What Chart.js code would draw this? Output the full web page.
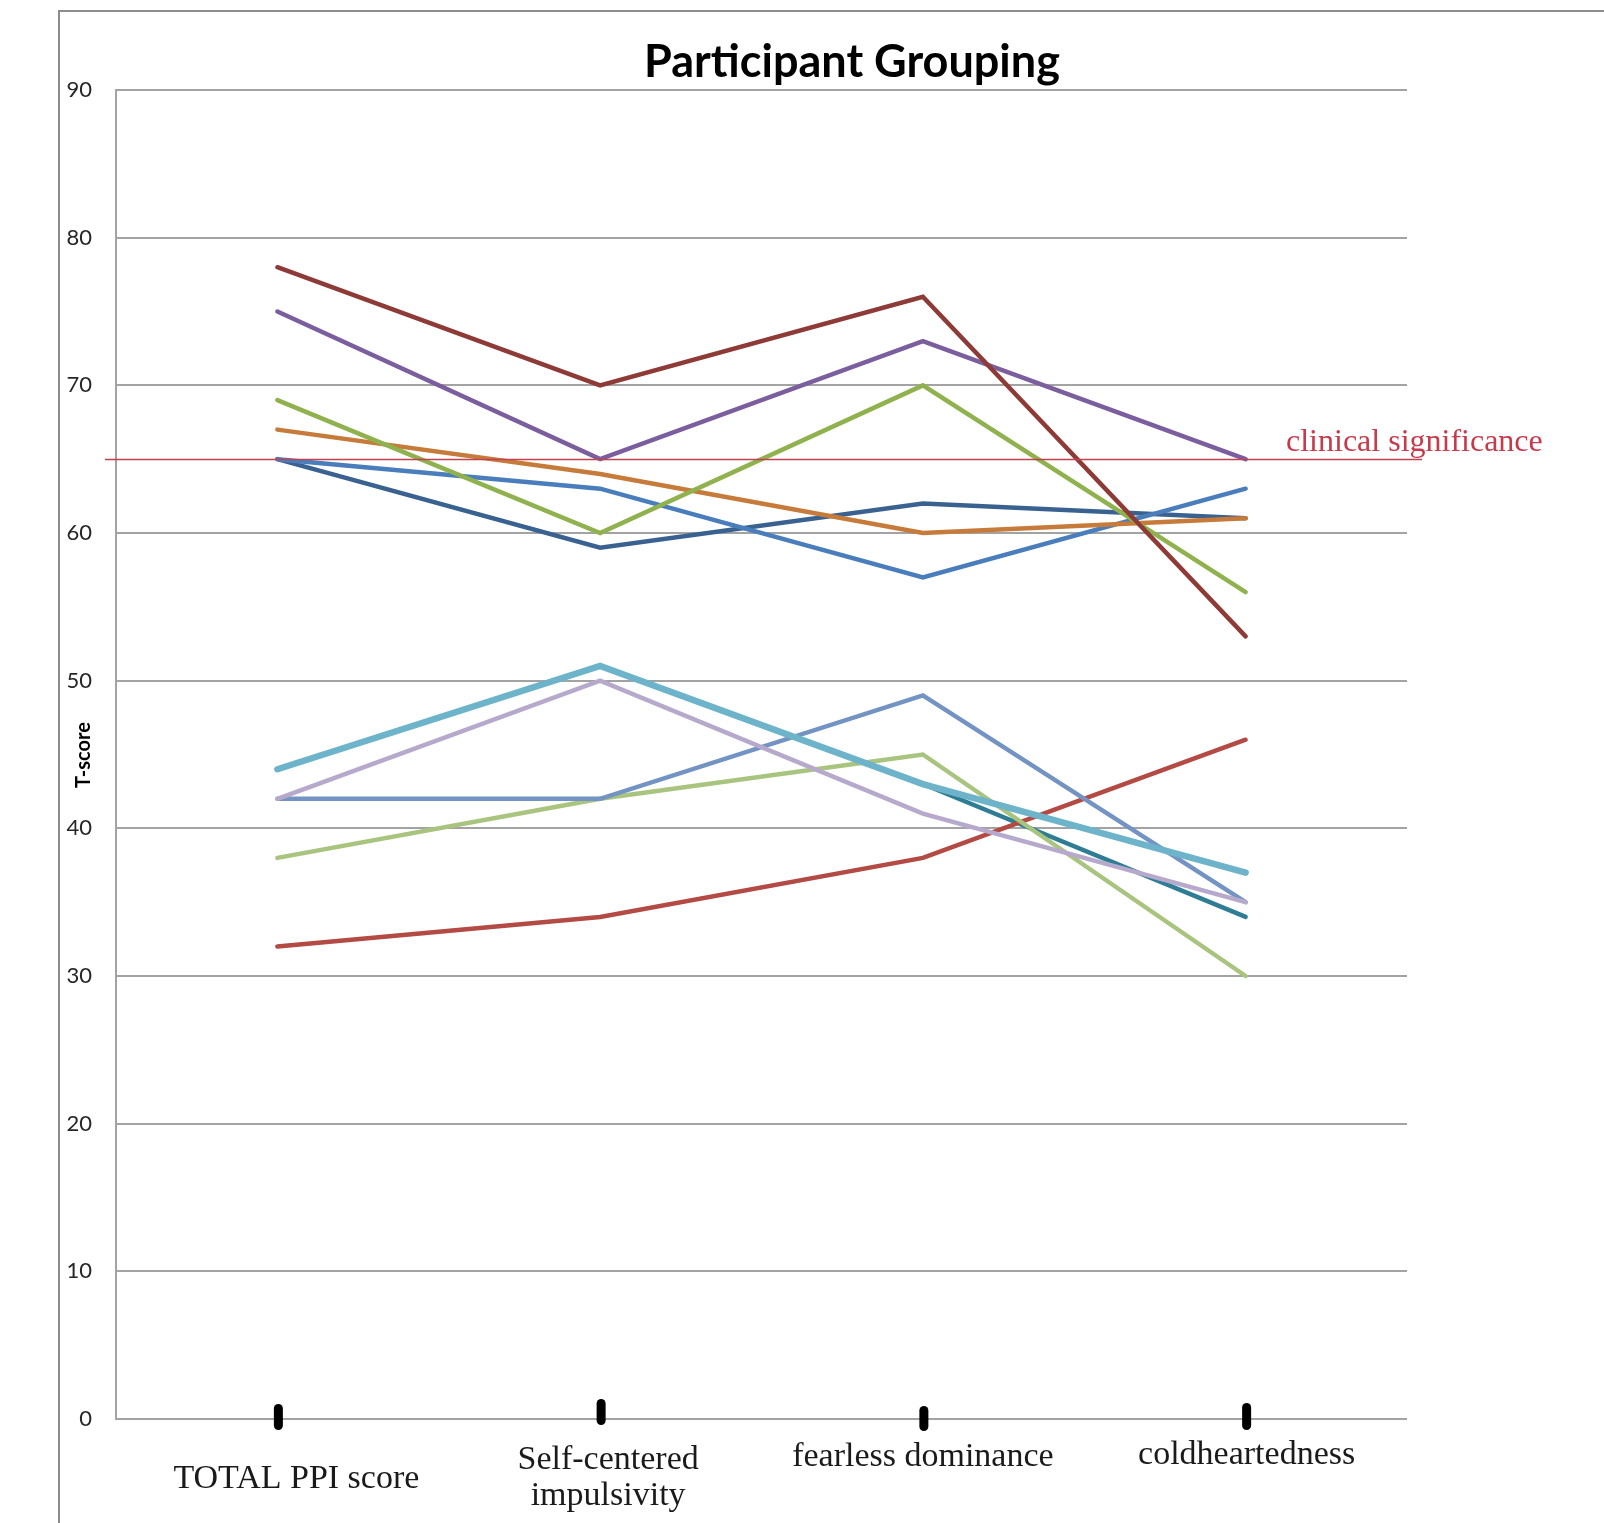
<!DOCTYPE html>
<html>
<head>
<meta charset="utf-8">
<title>Participant Grouping</title>
<script src="https://cdn.jsdelivr.net/npm/chart.js@4"></script>
<style>
  html, body { margin: 0; padding: 0; background: #fff; }
  #wrap { width: 1604px; height: 1523px; }
</style>
</head>
<body>
<div id="wrap"><canvas id="ppiChart" width="1604" height="1523"></canvas></div>
<script>
// categories on the x axis (second one wraps onto two lines)
const categories = ['TOTAL PPI score', 'Self-centered impulsivity', 'fearless dominance', 'coldheartedness'];
const categoryLines = [['TOTAL PPI score'], ['Self-centered', 'impulsivity'], ['fearless dominance'], ['coldheartedness']];

// y axis
const yMin = 0;
const yMax = 90;
const yStep = 10;
const clinicalThreshold = 65;
const clinicalLabel = 'clinical significance';

// one array per participant (T-scores)
const maroonScores   = [78, 70, 76, 53];
const purpleScores   = [75, 65, 73, 65];
const greenScores    = [69, 60, 70, 56];
const orangeScores   = [67, 64, 60, 61];
const blueScores     = [65, 63, 57, 63];
const navyScores     = [65, 59, 62, 61];
const cyanScores     = [44, 51, 43, 37];
const lavenderScores = [42, 50, 41, 35];
const steelScores    = [42, 42, 49, 35];
const paleGreenScores = [38, 42, 45, 30];
const redScores      = [32, 34, 38, 46];
const tealScores     = [44, 51, 43, 34];

function line(label, data, color, width) {
  return {
    label: label,
    data: data,
    borderColor: color,
    backgroundColor: color,
    borderWidth: width || 4.5,
    borderCapStyle: 'round',
    pointRadius: 0,
    pointHoverRadius: 0,
    tension: 0,
    fill: false
  };
}

// first dataset ends up drawn on top
const datasets = [
  line('P1', maroonScores, '#8e3b38'),
  line('P2', purpleScores, '#7a5e9e'),
  line('P3', greenScores, '#8fb24f'),
  line('P4', orangeScores, '#c67b3b'),
  line('P5', blueScores, '#4a7dbb'),
  line('P6', navyScores, '#3a6291'),
  line('P7', cyanScores, '#6db4cb', 6.5),
  line('P8', lavenderScores, '#b7a9cc'),
  line('P9', steelScores, '#7393c3'),
  line('P10', paleGreenScores, '#a8c47e'),
  line('P11', redScores, '#b34a44'),
  line('P12', tealScores, '#2e7d95')
];

// extra drawing: frame, title, threshold line, tick marks, labels
const decor = {
  id: 'decor',
  beforeDraw(chart) {
    const ctx = chart.ctx;
    ctx.save();
    ctx.fillStyle = '#ffffff';
    ctx.fillRect(0, 0, chart.width, chart.height);
    ctx.strokeStyle = '#8c8c8c';
    ctx.lineWidth = 2;
    ctx.strokeRect(59, 11, 3000, 3000);
    ctx.restore();
  },
  afterDatasetsDraw(chart) {
    const ctx = chart.ctx;
    const x = chart.scales.x, y = chart.scales.y;
    const area = chart.chartArea;
    ctx.save();
    // clinical significance line
    const yc = Math.round(y.getPixelForValue(clinicalThreshold)) + 0.5;
    ctx.strokeStyle = '#c2414f';
    ctx.lineWidth = 1.5;
    ctx.beginPath();
    ctx.moveTo(area.left - 11, yc);
    ctx.lineTo(area.right + 15, yc);
    ctx.stroke();
    ctx.fillStyle = '#c63a4b';
    ctx.font = '32px "Liberation Serif"';
    ctx.textAlign = 'left';
    ctx.textBaseline = 'alphabetic';
    ctx.fillText(clinicalLabel, area.right - 121, yc - 9);

    // thick hand-drawn category markers
    const markTop = [1404, 1399, 1406, 1403];
    const markBottom = [1430, 1425, 1431, 1430];
    ctx.strokeStyle = '#000';
    ctx.lineWidth = 9;
    ctx.lineCap = 'round';
    categories.forEach((c, i) => {
      const px = x.getPixelForValue(i) + 1;
      ctx.beginPath();
      ctx.moveTo(px, markTop[i] + 4.5);
      ctx.lineTo(px, markBottom[i] - 4.5);
      ctx.stroke();
    });
    ctx.restore();
  },
  afterDraw(chart) {
    const ctx = chart.ctx;
    const x = chart.scales.x;
    ctx.save();
    // title
    ctx.fillStyle = '#000';
    ctx.font = 'bold 45px Lato';
    ctx.textAlign = 'center';
    ctx.textBaseline = 'alphabetic';
    ctx.fillText('Participant Grouping', 852, 77);

    // y axis title
    ctx.save();
    ctx.translate(84, 755);
    ctx.rotate(-Math.PI / 2);
    ctx.font = 'bold 20px Lato';
    ctx.textBaseline = 'middle';
    ctx.fillText('T-score', 0, 0);
    ctx.restore();

    // category labels
    const dx = [19, 8, 0, 1];
    const ys = [[1479], [1460, 1496], [1457], [1455]];
    ctx.font = '34px "Liberation Serif"';
    ctx.fillStyle = '#1a1a1a';
    ctx.textBaseline = 'middle';
    categoryLines.forEach((lines, i) => {
      const px = x.getPixelForValue(i) + dx[i];
      lines.forEach((t, j) => ctx.fillText(t, px, ys[i][j]));
    });
    ctx.restore();
  }
};

new Chart(document.getElementById('ppiChart'), {
  type: 'line',
  data: { labels: categories, datasets: datasets },
  plugins: [decor],
  options: {
    responsive: false,
    animation: false,
    events: [],
    layout: { padding: { left: 0, top: 90, right: 197, bottom: 104 } },
    plugins: {
      legend: { display: false },
      title: { display: false },
      tooltip: { enabled: false }
    },
    scales: {
      x: {
        type: 'category',
        offset: true,
        grid: { display: false, drawTicks: false },
        border: { display: false },
        ticks: { display: false },
        afterFit(scale) { scale.height = 0; }
      },
      y: {
        min: yMin,
        max: yMax,
        ticks: {
          stepSize: yStep,
          padding: 24,
          color: '#262626',
          font: { family: 'Lato', size: 22 }
        },
        grid: { color: '#a3a3a3', lineWidth: 2, drawTicks: false },
        border: { display: true, color: '#a3a3a3', width: 2 },
        afterFit(scale) { scale.width = 116; }
      }
    }
  }
});
</script>
</body>
</html>
